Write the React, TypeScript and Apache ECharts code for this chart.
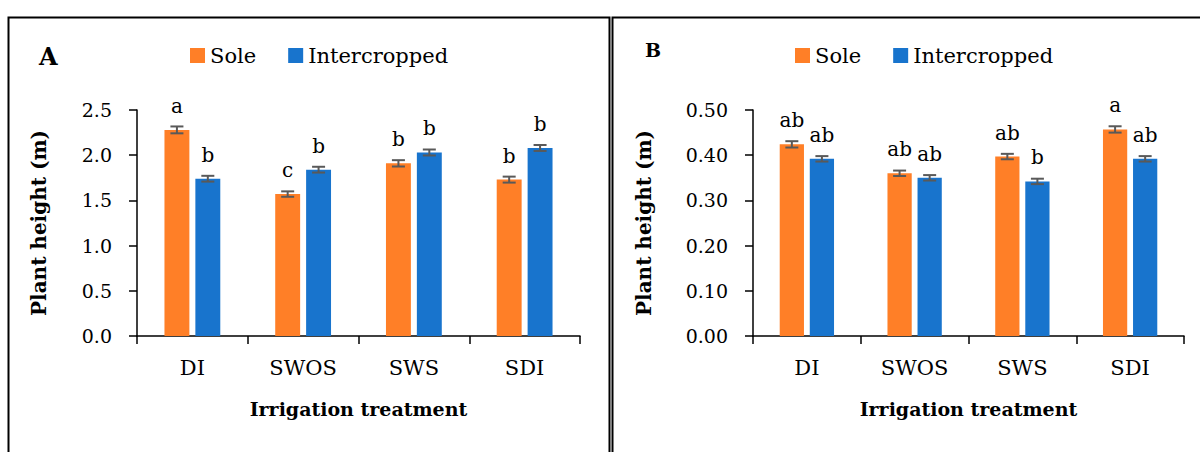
import React, { useEffect, useRef } from "react";
import * as echarts from "echarts";

const categories = ["DI", "SWOS", "SWS", "SDI"];
const seriesNames = ["Sole", "Intercropped"];

// Panel A: plant height (m)
const soleA = [2.28, 1.57, 1.91, 1.73];
const interA = [1.74, 1.84, 2.03, 2.08];
const errSoleA = [0.038, 0.03, 0.035, 0.033];
const errInterA = [0.032, 0.032, 0.033, 0.033];
const lettersSoleA = ["a", "c", "b", "b"];
const lettersInterA = ["b", "b", "b", "b"];

// Panel B: plant height (m)
const soleB = [0.424, 0.36, 0.397, 0.457];
const interB = [0.392, 0.35, 0.342, 0.392];
const errSoleB = [0.007, 0.006, 0.006, 0.007];
const errInterB = [0.006, 0.006, 0.006, 0.006];
const lettersSoleB = ["ab", "ab", "ab", "a"];
const lettersInterB = ["ab", "ab", "b", "ab"];

const FONT = "DejaVu Serif";
const ORANGE = "#FF7F27";
const BLUE = "#1874CD";
const ERR = "#595959";
const BAR_W = 0.225;
const BAR_GAP = 0.24;

function errSeries(axisIdx: number, vals: number[], errs: number[], side: number) {
  return {
    type: "custom",
    xAxisIndex: axisIdx,
    yAxisIndex: axisIdx,
    z: 10,
    silent: true,
    encode: { x: 0, y: 1 },
    data: vals.map((v, i) => [i, v, errs[i], side]),
    renderItem: (params: any, api: any) => {
      const idx = api.value(0);
      const v = api.value(1);
      const e = api.value(2);
      const s = api.value(3);
      const catW = api.size([1, 0])[0];
      const bw = catW * BAR_W;
      const off = ((bw + bw * BAR_GAP) / 2) * (s === 0 ? -1 : 1);
      const x = api.coord([idx, v])[0] + off;
      const yt = api.coord([idx, v + e])[1];
      const yb = api.coord([idx, v - e])[1];
      const hw = 6.5;
      const st = { stroke: ERR, lineWidth: 2 };
      return {
        type: "group",
        children: [
          { type: "line", shape: { x1: x, y1: yt, x2: x, y2: yb }, style: st },
          { type: "line", shape: { x1: x - hw, y1: yt, x2: x + hw, y2: yt }, style: st },
          { type: "line", shape: { x1: x - hw, y1: yb, x2: x + hw, y2: yb }, style: st },
        ],
      };
    },
  };
}

function barSeries(axisIdx: number, name: string, vals: number[], letters: string[], color: string) {
  return {
    type: "bar",
    name,
    xAxisIndex: axisIdx,
    yAxisIndex: axisIdx,
    barWidth: BAR_W * 100 + "%",
    barGap: BAR_GAP * 100 + "%",
    itemStyle: { color },
    data: vals,
    label: {
      show: true,
      position: "top",
      distance: 14,
      formatter: (p: any) => letters[p.dataIndex],
      fontFamily: FONT,
      fontSize: 20,
      color: "#000",
    },
  };
}

function yAxis(gridIndex: number, max: number, interval: number, digits: number, nameGap: number) {
  return {
    type: "value",
    gridIndex,
    min: 0,
    max,
    interval,
    name: "Plant height (m)",
    nameLocation: "middle",
    nameGap,
    nameTextStyle: { fontFamily: FONT, fontWeight: "bold", fontSize: 20, color: "#000" },
    axisLine: { show: true, lineStyle: { color: "#000", width: 1.5 } },
    axisTick: { show: true, length: 8, lineStyle: { color: "#000", width: 1.5 } },
    splitLine: { show: false },
    axisLabel: {
      margin: 25,
      fontFamily: FONT,
      fontSize: 19,
      color: "#000",
      formatter: (v: number) => v.toFixed(digits),
    },
  };
}

function xAxis(gridIndex: number) {
  return {
    type: "category",
    gridIndex,
    data: categories,
    name: "Irrigation treatment",
    nameLocation: "middle",
    nameGap: 63,
    nameTextStyle: { fontFamily: FONT, fontWeight: "bold", fontSize: 19, color: "#000" },
    axisLine: { show: true, lineStyle: { color: "#000", width: 1.5 } },
    axisTick: { show: true, length: 8, lineStyle: { color: "#000", width: 1.5 } },
    axisLabel: { margin: 21, fontFamily: FONT, fontSize: 21, color: "#000" },
  };
}

function legend(left: number) {
  return {
    left,
    top: 40,
    itemWidth: 15,
    itemHeight: 15,
    itemGap: 32,
    icon: "rect",
    data: seriesNames,
    textStyle: { fontFamily: FONT, fontSize: 21, color: "#000" },
  };
}

export default function App() {
  const ref = useRef<HTMLDivElement>(null);
  useEffect(() => {
    if (!ref.current) return;
    const chart = echarts.init(ref.current, undefined, { renderer: "svg" });
    chart.setOption({
      animation: false,
      backgroundColor: "#fff",
      color: [ORANGE, BLUE],
      legend: [legend(185), legend(790)],
      grid: [
        { left: 137, top: 110, width: 443, height: 226 },
        { left: 753, top: 110, width: 431, height: 226 },
      ],
      xAxis: [xAxis(0), xAxis(1)],
      yAxis: [yAxis(0, 2.5, 0.5, 1, 88), yAxis(1, 0.5, 0.1, 2, 99)],
      series: [
        barSeries(0, "Sole", soleA, lettersSoleA, ORANGE),
        barSeries(0, "Intercropped", interA, lettersInterA, BLUE),
        errSeries(0, soleA, errSoleA, 0),
        errSeries(0, interA, errInterA, 1),
        barSeries(1, "Sole", soleB, lettersSoleB, ORANGE),
        barSeries(1, "Intercropped", interB, lettersInterB, BLUE),
        errSeries(1, soleB, errSoleB, 0),
        errSeries(1, interB, errInterB, 1),
      ],
      graphic: [
        {
          type: "rect",
          shape: { x: 8.5, y: 17.5, width: 601, height: 460 },
          style: { fill: "none", stroke: "#000", lineWidth: 2 },
          silent: true,
        },
        {
          type: "rect",
          shape: { x: 612.5, y: 17.5, width: 600, height: 460 },
          style: { fill: "none", stroke: "#000", lineWidth: 2 },
          silent: true,
        },
        {
          type: "text",
          left: 39,
          top: 44,
          style: { text: "A", fontFamily: FONT, fontWeight: "bold", fontSize: 24, fill: "#000" },
        },
        {
          type: "text",
          left: 645,
          top: 40,
          style: { text: "B", fontFamily: FONT, fontWeight: "bold", fontSize: 19, fill: "#000" },
        },
      ],
    });
    return () => chart.dispose();
  }, []);
  return (
    <div
      ref={ref}
      style={{ position: "fixed", left: 0, top: 0, width: 1200, height: 452, background: "#fff" }}
    />
  );
}
